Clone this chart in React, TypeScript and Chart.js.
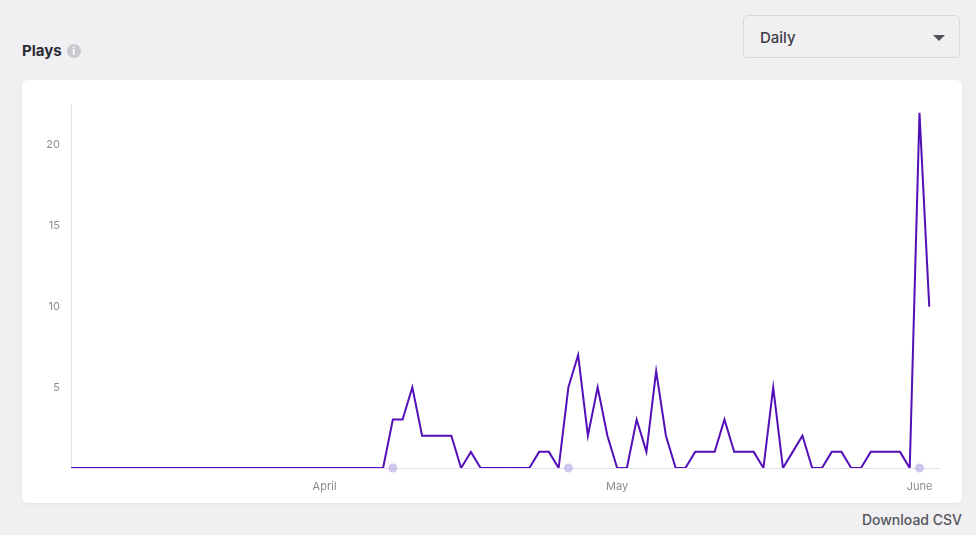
import React, { useEffect, useRef } from "react";
import { Chart, registerables } from "chart.js";

Chart.register(...registerables);

// Daily plays, one value per day (first day = index 0)
const plays: number[] = [
  0, 0, 0, 0, 0, 0, 0, 0, 0, 0,
  0, 0, 0, 0, 0, 0, 0, 0, 0, 0,
  0, 0, 0, 0, 0, 0, 0, 0, 0, 0,
  0, 0, 0, 3, 3, 5, 2, 2, 2, 2,
  0, 1, 0, 0, 0, 0, 0, 0, 1, 1,
  0, 5, 7, 2, 5, 2, 0, 0, 3, 1,
  6, 2, 0, 0, 1, 1, 1, 3, 1, 1,
  1, 0, 5, 0, 1, 2, 0, 0, 1, 1,
  0, 0, 1, 1, 1, 1, 0, 22, 10,
];

// Month tick labels and the day index they sit on
const monthLabels: string[] = ["April", "May", "June"];
const monthTickDays: number[] = [26, 56, 87];

// Event markers on the baseline (day indices)
const markerDays: number[] = [33, 51, 87];

const yTicks: number[] = [5, 10, 15, 20];

const FONT = "Inter, 'Noto Sans', sans-serif";

export default function App() {
  const canvasRef = useRef<HTMLCanvasElement | null>(null);

  useEffect(() => {
    if (!canvasRef.current) return;
    const chart = new Chart(canvasRef.current, {
      type: "line",
      data: {
        datasets: [
          {
            label: "Markers",
            data: markerDays.map((d) => ({ x: d, y: 0 })),
            showLine: false,
            pointRadius: 4.5,
            pointBackgroundColor: "rgba(200,188,232,0.85)",
            pointBorderWidth: 0,
            clip: false,
            order: 2,
          },
          {
            label: "Plays",
            data: plays.map((v, i) => ({ x: i, y: v })),
            borderColor: "#530fb8",
            borderWidth: 2,
            pointRadius: 0,
            tension: 0,
            fill: false,
            order: 1,
          },
        ],
      },
      options: {
        animation: false,
        responsive: false,
        maintainAspectRatio: false,
        layout: { padding: { top: 24, right: 23, left: 0, bottom: 0 } },
        plugins: { legend: { display: false }, tooltip: { enabled: false } },
        scales: {
          x: {
            type: "linear",
            min: 0,
            max: 89,
            afterFit: (s: any) => {
              s.height = 35;
            },
            afterBuildTicks: (s: any) => {
              s.ticks = monthTickDays.map((v) => ({ value: v }));
            },
            grid: { display: false, drawTicks: false },
            border: { display: true, color: "#e2ddef", width: 1 },
            ticks: {
              autoSkip: false,
              maxRotation: 0,
              padding: 12,
              color: "#8a8a92",
              font: { family: FONT, size: 11 },
              callback: (v: any) => {
                const idx = monthTickDays.indexOf(Number(v));
                return idx >= 0 ? monthLabels[idx] : "";
              },
            },
          },
          y: {
            min: 0,
            max: 22.55,
            afterFit: (s: any) => {
              s.width = 49;
            },
            afterBuildTicks: (s: any) => {
              s.ticks = yTicks.map((v) => ({ value: v }));
            },
            grid: { display: false, drawTicks: false },
            border: { display: true, color: "#e3e3e6", width: 1 },
            ticks: {
              padding: 11,
              color: "#8a8a92",
              font: { family: FONT, size: 11 },
            },
          },
        },
      },
    });
    return () => chart.destroy();
  }, []);

  return (
    <div
      style={{
        position: "fixed",
        left: 0,
        top: 0,
        width: 976,
        height: 535,
        background: "#f0f0f3",
        fontFamily: FONT,
        overflow: "hidden",
      }}
    >
      <div
        style={{
          position: "absolute",
          left: 22,
          top: 41,
          fontSize: 15,
          fontWeight: 700,
          color: "#2b2b33",
          display: "flex",
          alignItems: "center",
        }}
      >
        Plays
        <span
          style={{
            display: "inline-block",
            width: 14,
            height: 14,
            borderRadius: 7,
            background: "#c9c9cd",
            color: "#fff",
            fontSize: 10,
            fontWeight: 700,
            lineHeight: "14px",
            textAlign: "center",
            marginLeft: 5,
          }}
        >
          i
        </span>
      </div>

      <div
        style={{
          position: "absolute",
          left: 743,
          top: 15,
          width: 215,
          height: 41,
          border: "1.5px solid #dadade",
          borderRadius: 5,
          background: "#f0f0f3",
          boxSizing: "content-box",
        }}
      >
        <span
          style={{
            position: "absolute",
            left: 16,
            top: 12,
            fontSize: 15,
            fontWeight: 500,
            color: "#3c3c46",
          }}
        >
          Daily
        </span>
        <span
          style={{
            position: "absolute",
            left: 189,
            top: 19,
            width: 0,
            height: 0,
            borderLeft: "6px solid transparent",
            borderRight: "6px solid transparent",
            borderTop: "6px solid #505058",
          }}
        />
      </div>

      <div
        style={{
          position: "absolute",
          left: 22,
          top: 80,
          width: 940,
          height: 423,
          background: "#ffffff",
          borderRadius: 6,
          boxShadow: "0 1px 3px rgba(0,0,0,0.06)",
        }}
      >
        <canvas ref={canvasRef} width={940} height={423} style={{ display: "block" }} />
      </div>

      <div
        style={{
          position: "absolute",
          right: 14,
          top: 511,
          fontSize: 14,
          fontWeight: 500,
          color: "#55555c",
        }}
      >
        Download CSV
      </div>
    </div>
  );
}
